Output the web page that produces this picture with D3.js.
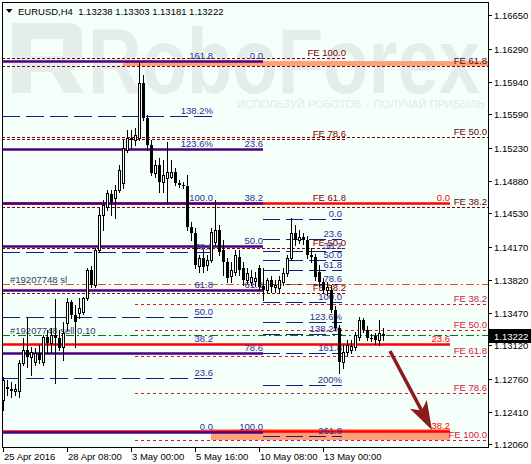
<!DOCTYPE html>
<html><head><meta charset="utf-8">
<script src="https://cdn.jsdelivr.net/npm/d3@7"></script>
<style>
html,body{margin:0;padding:0;background:#fff;}
svg{display:block;font-family:"Liberation Sans",Arial,sans-serif;}
</style></head><body>
<svg id="c" width="531" height="464"></svg>
<script>
// ---------------- DATA ----------------
const symbolTitle = "EURUSD,H4";
const titleValues = ["1.13238", "1.13303", "1.13181", "1.13222"];
const lastPrice = 1.13222;

const timeLabels = ["25 Apr 2016", "28 Apr 08:00", "3 May 00:00", "5 May 16:00", "10 May 08:00", "13 May 00:00"];
const timeLabelBars = [0, 16, 32, 48, 64, 80];

const priceTicks = [1.16650, 1.16290, 1.15940, 1.15590, 1.15230, 1.14880, 1.14530, 1.14170, 1.13820, 1.13470, 1.13120, 1.12760, 1.12410, 1.12060];

const opens = [1.12534,1.12662,1.12652,1.1263,1.1263,1.1293,1.13069,1.12994,1.12941,1.13037,
1.12941,1.13208,1.13144,1.1323,1.13197,1.13101,1.13358,1.13583,1.13444,1.13465,
1.13476,1.13625,1.13925,1.13765,1.14139,1.14514,1.14599,1.14738,1.14695,1.14781,
1.14856,1.15209,1.15327,1.15316,1.15337,1.15926,1.15551,1.15263,1.14963,1.15049,
1.14867,1.14909,1.1492,1.14974,1.14856,1.14835,1.14824,1.14385,1.14321,1.13968,
1.14053,1.13979,1.14032,1.14225,1.14353,1.14139,1.14011,1.13861,1.13904,1.14064,
1.13946,1.13818,1.13797,1.13807,1.13946,1.13754,1.13711,1.13818,1.13743,1.13732,
1.13797,1.13893,1.14053,1.14321,1.14246,1.14278,1.14246,1.14086,1.14064,1.13904,
1.13797,1.13711,1.13711,1.13497,1.13304,1.12941,1.13048,1.13069,1.13101,1.13208,
1.1339,1.13283,1.13197,1.13219,1.13176,1.13238];
const highs = [1.1278,1.12748,1.12727,1.12705,1.12962,1.13197,1.13411,1.13101,1.1309,1.13123,
1.1323,1.13283,1.13304,1.13615,1.13283,1.13369,1.13625,1.13604,1.13551,1.13625,
1.13636,1.13946,1.13968,1.1416,1.14588,1.14674,1.14781,1.14781,1.14835,1.15049,
1.15316,1.15423,1.15423,1.15444,1.16151,1.16012,1.15584,1.15316,1.15102,1.15123,
1.15102,1.15295,1.15102,1.15016,1.14888,1.14867,1.14942,1.14439,1.14374,1.14086,
1.14139,1.14086,1.14374,1.14674,1.14407,1.14246,1.14053,1.14011,1.14139,1.14139,
1.14011,1.13946,1.13925,1.13904,1.13979,1.13946,1.13839,1.13861,1.13818,1.13861,
1.13946,1.14086,1.14481,1.14407,1.14353,1.14321,1.14289,1.1416,1.14096,1.13979,
1.13839,1.13797,1.13765,1.1354,1.13337,1.13123,1.13176,1.13176,1.13262,1.13422,
1.13411,1.13326,1.1324,1.13251,1.1339,1.13303];
const lows = [1.12427,1.12588,1.12566,1.12588,1.12566,1.12909,1.12887,1.12802,1.12909,1.1293,
1.12909,1.13037,1.13048,1.12716,1.13069,1.12962,1.13283,1.13411,1.13101,1.13411,
1.13454,1.13604,1.13743,1.13743,1.14118,1.14353,1.14567,1.14514,1.14481,1.1476,
1.14802,1.15188,1.1523,1.15263,1.15316,1.1553,1.15209,1.14942,1.1492,1.1476,
1.1476,1.14653,1.14909,1.14835,1.14813,1.14802,1.14353,1.14246,1.13946,1.13904,
1.13904,1.13925,1.14011,1.14193,1.14086,1.13872,1.13797,1.13797,1.13872,1.13872,
1.13765,1.13786,1.13765,1.13754,1.13711,1.13604,1.1369,1.1369,1.1369,1.1369,
1.13765,1.13861,1.14032,1.14193,1.14214,1.14203,1.14053,1.14011,1.13818,1.13754,
1.13679,1.13658,1.13476,1.13283,1.12823,1.12876,1.13016,1.13037,1.13069,1.13176,
1.13262,1.13176,1.13165,1.13133,1.13123,1.13181];
const closes = [1.12748,1.12673,1.1263,1.12652,1.1293,1.13069,1.12994,1.13048,1.13037,1.12962,
1.13208,1.13144,1.1323,1.13197,1.1309,1.13251,1.13583,1.13444,1.13369,1.13518,
1.13625,1.13925,1.13765,1.14139,1.14514,1.14621,1.14749,1.14653,1.14781,1.14995,
1.1523,1.15337,1.15337,1.1537,1.15926,1.15551,1.15263,1.14963,1.15049,1.14867,
1.14942,1.14974,1.14974,1.14856,1.14835,1.14824,1.14385,1.14321,1.13979,1.14053,
1.13957,1.14032,1.14332,1.14353,1.14118,1.14011,1.13839,1.13925,1.14086,1.13925,
1.13818,1.13893,1.1385,1.13839,1.13743,1.13711,1.13818,1.13743,1.13765,1.13818,
1.13893,1.14053,1.14321,1.14246,1.14278,1.14246,1.14086,1.14064,1.1385,1.13797,
1.13711,1.13743,1.13497,1.13304,1.12941,1.13048,1.13123,1.13112,1.1323,1.1339,
1.13283,1.13197,1.13187,1.13176,1.13251,1.13222];

// Fibonacci retracement (purple, thick)
const fibPurpleAnchors = [1.16161, 1.12192];
const fibPurpleBars = [-0.25, 65];
const fibPurpleLevels = [0, 23.6, 38.2, 50, 61.8, 78.6, 100];
const fibPurpleLabels = ["0.0", "23.6", "38.2", "50.0", "61.8", "78.6", "100.0"];

// Fibonacci (navy dashed, left)
const fibNavyAAnchors = [1.12192, 1.14642];
const fibNavyABars = [-0.25, 52.5];
const fibNavyALevels = [0, 23.6, 38.2, 50, 61.8, 78.6, 100, 123.6, 138.2, 161.8];
const fibNavyALabels = ["0.0", "23.6", "38.2", "50.0", "61.8", "78.6", "100.0", "123.6%", "138.2%", "161.8"];

// Fibonacci (navy dashed, middle)
const fibNavyCAnchors = [1.14471, 1.13583];
const fibNavyCBars = [65, 84.75];
const fibNavyCLevels = [0, 23.6, 38.2, 50, 61.8, 78.6, 100, 123.6, 138.2, 161.8, 200, 261.8];
const fibNavyCLabels = ["0.0", "23.6", "38.2", "50.0", "61.8", "78.6", "100.0", "123.6%", "138.2%", "161.8", "200%", "261.8"];

// Fibonacci (red, thick)
const fibRedAnchors = [1.14642, 1.08248];
const fibRedBars = [-0.25, 111.75];
const fibRedLevels = [0, 23.6, 38.2];
const fibRedLabels = ["0.0", "23.6", "38.2"];

// Fibonacci expansions
const fe1Anchors = [1.12133, 1.16193];
const fe1Bars = [-0.25, 85.75];
const fe1Levels = [100, 78.6, 61.8, 50, 38.2];
const fe2Anchors = [1.12156, 1.18550];
const fe2Bars = [-0.25, 121.25];
const fe2Levels = [61.8, 50, 38.2];
const fe3Anchors = [1.14460, 1.12106];
const fe3Bars = [33, 121.25];
const fe3Levels = [38.2, 50, 61.8, 78.6, 100];

// target zones (rectangles)
const zoneBars = [[30, 121.25], [52, 111.75]];
const zonePrices = [[1.16161, 1.16108], [1.12224, 1.12106]];

// order lines
const orderNames = ["#19207748 sl", "#19207748 sell 0.10"];
const orderPrices = [1.13770, 1.13225];

// forecast arrow
const arrowBars = [96.75, 107.25];
const arrowPrices = [1.13058, 1.12213];

// ---------------- DRAW ----------------
const svg = d3.select("#c");
const L = 2, R = 488, T = 2, B = 447;
const x = d3.scaleLinear().domain([-0.25, 121.25]).range([L, R]);
const y = d3.scaleLinear().domain([1.12031, 1.16782]).range([B, 3]);

svg.append("rect").attr("width", 531).attr("height", 464).attr("fill", "#ffffff");
svg.append("defs").append("clipPath").attr("id", "clip")
  .append("rect").attr("x", L).attr("y", T).attr("width", R - L).attr("height", B - T);
svg.append("rect").attr("x", L).attr("y", T).attr("width", R - L).attr("height", B - T).attr("fill", "#F5FFFA");

const g = svg.append("g").attr("clip-path", "url(#clip)");

// watermark
const wm = g.append("g").attr("fill", "#e5edeb");
wm.append("path").attr("fill-rule", "evenodd")
  .attr("d", "M12,23 H68 Q82,23 82,37 V56 Q82,68 70,70 L84,93 H64 L52,72 H31 V93 H12 Z M31,39 H63 V56 H31 Z");
wm.append("text").attr("x", 88).attr("y", 93).attr("font-size", 92).attr("font-weight", "bold")
  .attr("textLength", 392).attr("lengthAdjust", "spacingAndGlyphs").text("RoboForex");
g.append("text").attr("x", 237).attr("y", 108).attr("font-size", 11).attr("fill", "#e2eae8")
  .text("ИСПОЛЬЗУЙ РОБОТОВ – ПОЛУЧАЙ ПРИБЫЛЬ");

// zones
zoneBars.forEach((b, k) => {
  const p = zonePrices[k];
  g.append("rect").attr("x", x(b[0])).attr("width", x(b[1]) - x(b[0]))
    .attr("y", y(p[0])).attr("height", y(p[1]) - y(p[0])).attr("fill", "#FFA07A");
});

const lvlPrice = (anch, lv) => anch[0] + (anch[1] - anch[0]) * lv / 100;
const labelLayer = [];

function drawLevels(anch, bars, levels, stroke, width, dash, labels, labelColor, labelAnchorX) {
  levels.forEach((lv, k) => {
    const yy = Math.round(y(lvlPrice(anch, lv))) + (width % 2 ? 0.5 : 0);
    g.append("line").attr("x1", x(bars[0])).attr("x2", x(bars[1])).attr("y1", yy).attr("y2", yy)
      .attr("stroke", stroke).attr("stroke-width", width).attr("stroke-dasharray", dash);
    if (labels) labelLayer.push({x: labelAnchorX, y: yy - 3, t: labels[k], c: labelColor});
  });
}

// FE expansions (dashed)
drawLevels(fe1Anchors, fe1Bars, fe1Levels, "#8B0000", 1, "3,2", fe1Levels.map(v => "FE " + v.toFixed(1)), "#800000", x(fe1Bars[1]));
drawLevels(fe2Anchors, fe2Bars, fe2Levels, "#8B0000", 1, "3,2", fe2Levels.map(v => "FE " + v.toFixed(1)), "#5a0a0a", 487);
drawLevels(fe3Anchors, fe3Bars, fe3Levels, "#DC143C", 1, "3,3", fe3Levels.map(v => "FE " + v.toFixed(1)), "#DC143C", 487);
// navy dashed fibs
drawLevels(fibNavyAAnchors, fibNavyABars, fibNavyALevels, "#1a1a80", 1, "18,6", fibNavyALabels, "#2d2d96", x(fibNavyABars[1]));
drawLevels(fibNavyCAnchors, fibNavyCBars, fibNavyCLevels, "#1a1a80", 1, "17,6", fibNavyCLabels, "#2d2d96", x(fibNavyCBars[1]));

// order lines
const orderColors = ["#FF4500", "#008000"];
orderPrices.forEach((p, k) => {
  const yy = Math.round(y(p)) + 0.5;
  g.append("line").attr("x1", L).attr("x2", R).attr("y1", yy).attr("y2", yy)
    .attr("stroke", orderColors[k]).attr("stroke-width", 1).attr("stroke-dasharray", "8,3,2,3");
  labelLayer.push({x: 10, y: yy - 2, t: orderNames[k], c: "#2e3a70", start: true});
});

// red & purple fibs (thick)
drawLevels(fibRedAnchors, fibRedBars, fibRedLevels, "#FF0000", 2.5, null, fibRedLabels, "#FF0000", x(fibRedBars[1]));
drawLevels(fibPurpleAnchors, fibPurpleBars, fibPurpleLevels, "#4B0082", 2.5, null, fibPurpleLabels, "#2d2d96", x(fibPurpleBars[1]));

// labels
labelLayer.forEach(d => {
  g.append("text").attr("x", d.x).attr("y", d.y).attr("font-size", 9.5).attr("fill", d.c)
    .attr("text-anchor", d.start ? "start" : "end").text(d.t);
});

// candles
const cg = g.append("g").attr("shape-rendering", "crispEdges");
opens.forEach((o, i) => {
  const c = closes[i];
  const cx = Math.round(x(i));
  cg.append("line").attr("x1", cx + 0.5).attr("x2", cx + 0.5)
    .attr("y1", Math.round(y(highs[i]))).attr("y2", Math.round(y(lows[i])) + 1).attr("stroke", "#000");
  const yt = Math.round(y(Math.max(o, c))), yb = Math.round(y(Math.min(o, c)));
  if (c >= o) {
    cg.append("rect").attr("x", cx - 0.5).attr("y", yt + 0.5).attr("width", 2).attr("height", Math.max(yb - yt, 0))
      .attr("fill", "#fff").attr("stroke", "#000");
  } else {
    cg.append("rect").attr("x", cx - 1).attr("y", yt).attr("width", 3).attr("height", Math.max(yb - yt, 1)).attr("fill", "#000");
  }
});

// arrow
(function () {
  const x0 = x(arrowBars[0]), y0 = y(arrowPrices[0]), x1 = x(arrowBars[1]), y1 = y(arrowPrices[1]);
  const dx = x1 - x0, dy = y1 - y0, len = Math.hypot(dx, dy);
  const ux = dx / len, uy = dy / len, nx = -uy, ny = ux;
  const HL = 29, HW = 9.5, notch = 7;
  const bx = x1 - ux * HL, by = y1 - uy * HL;
  const mx = x1 - ux * (HL - notch), my = y1 - uy * (HL - notch);
  g.append("line").attr("x1", x0).attr("y1", y0).attr("x2", mx).attr("y2", my)
    .attr("stroke", "#8c1c1c").attr("stroke-width", 3.5);
  g.append("path").attr("fill", "#8c1c1c")
    .attr("d", `M${x1},${y1} L${bx + nx * HW},${by + ny * HW} L${mx},${my} L${bx - nx * HW},${by - ny * HW} Z`);
})();

// frame
svg.append("rect").attr("x", L + 0.5).attr("y", T + 0.5).attr("width", R - L).attr("height", B - T)
  .attr("fill", "none").attr("stroke", "#000").attr("shape-rendering", "crispEdges");

// price axis
priceTicks.forEach(p => {
  const yy = Math.round(y(p)) + 0.5;
  svg.append("line").attr("x1", R).attr("x2", R + 4).attr("y1", yy).attr("y2", yy).attr("stroke", "#000");
  svg.append("text").attr("x", 494).attr("y", yy + 3.5).attr("font-size", 9.5).attr("fill", "#000").text(p.toFixed(5));
});
// current price box
const yl = Math.round(y(lastPrice));
svg.append("rect").attr("x", R + 1).attr("y", yl - 7).attr("width", 531 - R - 1).attr("height", 14).attr("fill", "#000");
svg.append("text").attr("x", 494).attr("y", yl + 4).attr("font-size", 9.5).attr("fill", "#fff").text(lastPrice.toFixed(5));

// time axis
timeLabelBars.forEach((b, k) => {
  const xx = Math.round(x(b)) + 0.5;
  svg.append("line").attr("x1", xx).attr("x2", xx).attr("y1", B).attr("y2", B + 5).attr("stroke", "#000");
  svg.append("text").attr("x", xx + 0.5).attr("y", 460).attr("font-size", 9.5).attr("fill", "#000").text(timeLabels[k]);
});

// header
svg.append("path").attr("d", "M6,9 L12.5,9 L9.25,13 Z").attr("fill", "#000");
svg.append("text").attr("x", 18).attr("y", 15).attr("font-size", 9.5).attr("fill", "#000")
  .attr("xml:space", "preserve").text(symbolTitle + "  " + titleValues.join(" "));
</script>
</body></html>
